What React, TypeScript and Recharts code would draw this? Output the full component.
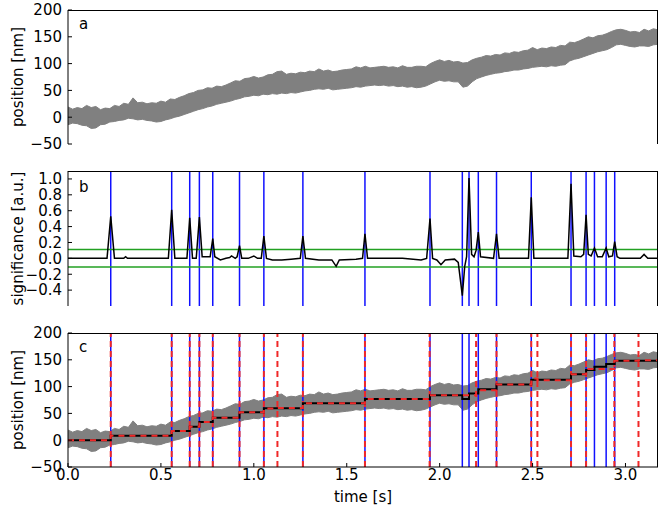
import {
  ComposedChart,
  Area,
  Line,
  XAxis,
  YAxis,
  ReferenceLine,
} from "recharts"

// position trace envelope, same recording in panels a and c
const bandTime = [
  0, 0.025, 0.05, 0.075, 0.1, 0.125, 0.15, 0.175, 0.2, 0.225, 0.25, 0.275, 0.3, 0.325, 0.35, 0.375,
  0.4, 0.425, 0.45, 0.475, 0.5, 0.525, 0.55, 0.575, 0.6, 0.625, 0.65, 0.675, 0.7, 0.725, 0.75, 0.775,
  0.8, 0.825, 0.85, 0.875, 0.9, 0.925, 0.95, 0.975, 1.0, 1.025, 1.05, 1.075, 1.1, 1.125, 1.15, 1.175,
  1.2, 1.225, 1.25, 1.275, 1.3, 1.325, 1.35, 1.375, 1.4, 1.425, 1.45, 1.475, 1.5, 1.525, 1.55, 1.575,
  1.6, 1.625, 1.65, 1.675, 1.7, 1.725, 1.75, 1.775, 1.8, 1.825, 1.85, 1.875, 1.9, 1.925, 1.95, 1.975,
  2.0, 2.025, 2.05, 2.075, 2.1, 2.125, 2.15, 2.175, 2.2, 2.225, 2.25, 2.275, 2.3, 2.325, 2.35, 2.375,
  2.4, 2.425, 2.45, 2.475, 2.5, 2.525, 2.55, 2.575, 2.6, 2.625, 2.65, 2.675, 2.7, 2.725, 2.75, 2.775,
  2.8, 2.825, 2.85, 2.875, 2.9, 2.925, 2.95, 2.975, 3.0, 3.025, 3.05, 3.075, 3.1, 3.125, 3.15, 3.175,
]
const bandHigh = [
  19, 15, 18, 16, 22, 18, 20, 14, 17, 16, 22, 20, 26, 24, 36, 27,
  28, 25, 27, 26, 30, 28, 34, 33, 37, 40, 44, 46, 50, 51, 55, 54,
  58, 57, 60, 64, 68, 67, 72, 73, 76, 73, 75, 79, 80, 85, 86, 80,
  82, 81, 84, 83, 86, 85, 90, 86, 88, 85, 86, 88, 89, 90, 94, 92,
  95, 92, 93, 94, 95, 93, 94, 92, 96, 93, 93, 95, 95, 94, 100, 104,
  107, 104, 106, 103, 104, 101, 102, 107, 110, 112, 115, 114, 117, 116, 120, 119,
  122, 121, 124, 125, 130, 126, 129, 128, 131, 130, 134, 133, 140, 139, 142, 146,
  150, 148, 152, 153, 156, 160, 163, 164, 162, 159, 160, 158, 164, 161, 165, 163,
]
const bandLow = [
  -14, -11, -12, -15, -16, -21, -20, -14, -13, -9, -8, -6, -5, -2, -3, -5,
  -4, -6, -7, -9, -8, -5, -3, 0, 2, 5, 8, 11, 14, 16, 19, 21,
  24, 26, 28, 30, 33, 35, 38, 39, 41, 40, 43, 42, 44, 43, 45, 44,
  46, 45, 47, 49, 50, 52, 53, 52, 54, 51, 52, 53, 54, 55, 57, 56,
  58, 59, 60, 59, 60, 58, 59, 57, 58, 56, 57, 55, 56, 58, 62, 66,
  69, 67, 68, 66, 66, 56, 58, 66, 72, 75, 78, 80, 82, 83, 85, 86,
  88, 88, 90, 91, 93, 94, 95, 94, 96, 95, 97, 98, 105, 108, 110, 113,
  116, 119, 122, 124, 126, 130, 135, 136, 134, 132, 131, 133, 133, 132, 135, 136,
]

// significance trace
const sigTime = [
  0, 0.21, 0.23, 0.25, 0.3, 0.31, 0.32, 0.54, 0.558, 0.575, 0.64, 0.655, 0.67, 0.69, 0.707, 0.722,
  0.765, 0.779, 0.79, 0.82, 0.85, 0.87, 0.88, 0.9, 0.91, 0.923, 0.935, 0.97, 1.0, 1.02, 1.04, 1.054,
  1.068, 1.1, 1.15, 1.2, 1.25, 1.264, 1.278, 1.35, 1.42, 1.443, 1.46, 1.55, 1.585, 1.598, 1.612, 1.7,
  1.8, 1.9, 1.93, 1.948, 1.962, 1.985, 2.007, 2.03, 2.08, 2.1, 2.122, 2.135, 2.145, 2.158, 2.172, 2.185,
  2.196, 2.208, 2.22, 2.29, 2.306, 2.32, 2.4, 2.478, 2.493, 2.507, 2.6, 2.69, 2.707, 2.722, 2.76, 2.775,
  2.788, 2.8, 2.815, 2.833, 2.85, 2.875, 2.896, 2.91, 2.93, 2.942, 2.955, 2.97, 3.08, 3.1, 3.12, 3.175,
]
const sigValue = [
  0, 0, 0.53, 0, 0, 0.02, 0, 0, 0.61, 0, 0, 0.51, 0, 0, 0.52, 0.02,
  0.02, 0.25, 0.02, -0.02, 0, 0.01, 0.03, 0, 0.02, 0.16, 0, 0, 0.03, 0, 0, 0.28,
  0, -0.02, -0.02, -0.01, 0, 0.28, 0, -0.02, -0.02, -0.1, -0.02, -0.01, 0, 0.31, 0, 0,
  0, -0.02, 0, 0.5, 0, -0.02, -0.08, -0.02, -0.01, -0.05, -0.47, -0.1, 0.02, 1.01, 0.05, 0.02,
  0.1, 0.33, 0.02, 0, 0.31, 0, 0, 0, 0.77, 0, 0, 0, 0.94, 0.03, 0.02, 0.05,
  0.55, 0.05, 0.03, 0.13, 0.02, 0.02, 0.13, 0.02, 0.03, 0.21, 0.02, 0, 0, 0.05, 0, 0,
]
const threshold = 0.11

// detected steps (blue) and alternative fit (red dashed)
const blueEvents = [
  0.23, 0.558, 0.655, 0.707, 0.779, 0.923, 1.054, 1.264, 1.598, 1.948,
  2.122, 2.158, 2.208, 2.306, 2.493, 2.707, 2.788, 2.833, 2.896, 2.942,
]
const blueLevels = [
  0, 8.5, 17, 25, 34, 42, 52, 59.5, 69, 77, 84,
  77, 87, 95, 104, 113, 123, 131, 137, 142, 148,
]
const redEvents = [
  0.23, 0.558, 0.655, 0.707, 0.779, 0.923, 1.054, 1.127, 1.264, 1.598,
  1.946, 2.196, 2.306, 2.493, 2.526, 2.707, 2.788, 2.94, 3.07,
]
const redLevels = [
  0, 8.5, 17, 25, 34, 42, 52, 59, 60, 69, 77,
  84, 93, 104, 115, 112, 123, 133, 148, 149,
]

const tEnd = 3.175
const timeTicks = [0, 0.5, 1.0, 1.5, 2.0, 2.5, 3.0]
const posTicks = [-50, 0, 50, 100, 150, 200]
const sigTicks = [-0.4, -0.2, 0, 0.2, 0.4, 0.6, 0.8, 1.0]

const bandData = bandTime.map((t, i) => ({ t, range: [bandLow[i], bandHigh[i]] }))
const sigData = sigTime.map((t, i) => ({ t, v: sigValue[i] }))
const toSteps = (events: number[], levels: number[]) => [
  { t: 0, v: levels[0] },
  ...events.map((t, i) => ({ t, v: levels[i + 1] })),
  { t: tEnd, v: levels[levels.length - 1] },
]
const blueSteps = toSteps(blueEvents, blueLevels)
const redSteps = toSteps(redEvents, redLevels)

const font = "DejaVu Sans, sans-serif"
const tickStyle = { fontSize: 15, fill: "#000", fontFamily: font }
const minus = (s: string) => s.replace("-", "\u2212")
const fmtInt = (v: number) => minus(String(v))
const fmt1 = (v: number) => minus(v.toFixed(1))

const BLUE = "#1010ff"
const RED = "#f02828"
const GREEN = "#22a022"
const GRAY = "#808080"

// plot box of each panel (left/width shared)
const BOX_LEFT = 68
const BOX_W = 590

const panelLabel = (title: string, letter: string, letterDy: number) => (props: any) => {
  const vb = props.viewBox
  const cx = 18
  const cy = vb.y + vb.height / 2
  return (
    <g>
      <text
        x={cx}
        y={cy}
        transform={`rotate(-90, ${cx}, ${cy})`}
        textAnchor="middle"
        dominantBaseline="central"
        fontSize={15}
        fontFamily={font}
        fill="#000"
      >
        {title}
      </text>
      <text x={79} y={vb.y + letterDy} fontSize={15} fontFamily={font} fill="#000">
        {letter}
      </text>
    </g>
  )
}

const timeLabel = (props: any) => {
  const vb = props.viewBox
  return (
    <text x={363} y={vb.y + 35} textAnchor="middle" fontSize={15} fontFamily={font} fill="#000">
      time [s]
    </text>
  )
}

// closes the top and right side of the matplotlib-style frame
const FrameBox = ({ top, height }: { top: number; height: number }) => (
  <div
    style={{
      position: "absolute",
      left: BOX_LEFT,
      top,
      width: BOX_W,
      height,
      borderTop: "1px solid #000",
      borderRight: "1px solid #000",
      boxSizing: "border-box",
      pointerEvents: "none",
    }}
  />
)

const App = () => {
  return (
    <div style={{ position: "absolute", left: 0, top: 0, width: 664, height: 509, background: "#fff" }}>
      {/* a: raw position trace */}
      <div style={{ position: "absolute", left: 0, top: 0 }}>
        <ComposedChart width={664} height={160} margin={{ top: 10, right: 6, bottom: 16, left: 0 }}>
          <XAxis
            type="number"
            dataKey="t"
            domain={[0, tEnd]}
            ticks={timeTicks}
            interval={0}
            height={0}
            tick={false}
            tickSize={-4}
            stroke="#000"
            allowDataOverflow
          />
          <YAxis
            type="number"
            domain={[-50, 200]}
            ticks={posTicks}
            interval={0}
            width={68}
            tick={tickStyle}
            tickFormatter={fmtInt}
            tickSize={-4}
            tickMargin={10}
            stroke="#000"
            label={{ content: panelLabel("position [nm]", "a", 18.5) }}
            allowDataOverflow
          />
          <Area
            data={bandData}
            dataKey="range"
            type="linear"
            stroke={GRAY}
            fill={GRAY}
            fillOpacity={1}
            strokeWidth={1}
            isAnimationActive={false}
          />
        </ComposedChart>
      </div>
      <FrameBox top={10} height={134} />

      {/* b: significance */}
      <div style={{ position: "absolute", left: 0, top: 160 }}>
        <ComposedChart width={664} height={150} margin={{ top: 11, right: 6, bottom: 4, left: 0 }}>
          <XAxis
            type="number"
            dataKey="t"
            domain={[0, tEnd]}
            ticks={timeTicks}
            interval={0}
            height={0}
            tick={false}
            tickSize={-4}
            stroke="#000"
            allowDataOverflow
          />
          <YAxis
            type="number"
            domain={[-0.6, 1.1]}
            ticks={sigTicks}
            interval={0}
            width={68}
            tick={tickStyle}
            tickFormatter={fmt1}
            tickSize={-4}
            tickMargin={10}
            stroke="#000"
            label={{ content: panelLabel("significance [a.u.]", "b", 21.3) }}
            allowDataOverflow
          />
          {blueEvents.map((t) => (
            <ReferenceLine key={`b${t}`} x={t} stroke={BLUE} strokeWidth={1.5} />
          ))}
          <ReferenceLine y={threshold} stroke={GREEN} strokeWidth={1.5} />
          <ReferenceLine y={-threshold} stroke={GREEN} strokeWidth={1.5} />
          <Line
            data={sigData}
            dataKey="v"
            type="linear"
            stroke="#000"
            strokeWidth={1.5}
            dot={false}
            isAnimationActive={false}
          />
        </ComposedChart>
      </div>
      <FrameBox top={171} height={135} />

      {/* c: position with fitted steps */}
      <div style={{ position: "absolute", left: 0, top: 310 }}>
        <ComposedChart width={664} height={199} margin={{ top: 23, right: 6, bottom: 0, left: 0 }}>
          <XAxis
            type="number"
            dataKey="t"
            domain={[0, tEnd]}
            ticks={timeTicks}
            interval={0}
            height={42}
            tick={tickStyle}
            tickFormatter={fmt1}
            tickSize={-4}
            tickMargin={6}
            stroke="#000"
            label={{ content: timeLabel }}
            allowDataOverflow
          />
          <YAxis
            type="number"
            domain={[-50, 200]}
            ticks={posTicks}
            interval={0}
            width={68}
            tick={tickStyle}
            tickFormatter={fmtInt}
            tickSize={-4}
            tickMargin={10}
            stroke="#000"
            label={{ content: panelLabel("position [nm]", "c", 18.7) }}
            allowDataOverflow
          />
          <Area
            data={bandData}
            dataKey="range"
            type="linear"
            stroke={GRAY}
            fill={GRAY}
            fillOpacity={1}
            strokeWidth={1}
            isAnimationActive={false}
          />
          {blueEvents.map((t) => (
            <ReferenceLine key={`cb${t}`} x={t} stroke={BLUE} strokeWidth={1.5} />
          ))}
          {redEvents.map((t) => (
            <ReferenceLine key={`cr${t}`} x={t} stroke={RED} strokeWidth={2} strokeDasharray="6 4" />
          ))}
          <Line
            data={blueSteps}
            dataKey="v"
            type="stepAfter"
            stroke="#000"
            strokeWidth={2}
            dot={false}
            isAnimationActive={false}
          />
          <Line
            data={redSteps}
            dataKey="v"
            type="stepAfter"
            stroke={RED}
            strokeWidth={2}
            strokeDasharray="6 5"
            dot={false}
            isAnimationActive={false}
          />
        </ComposedChart>
      </div>
      <FrameBox top={333} height={134} />
    </div>
  )
}

export default App
